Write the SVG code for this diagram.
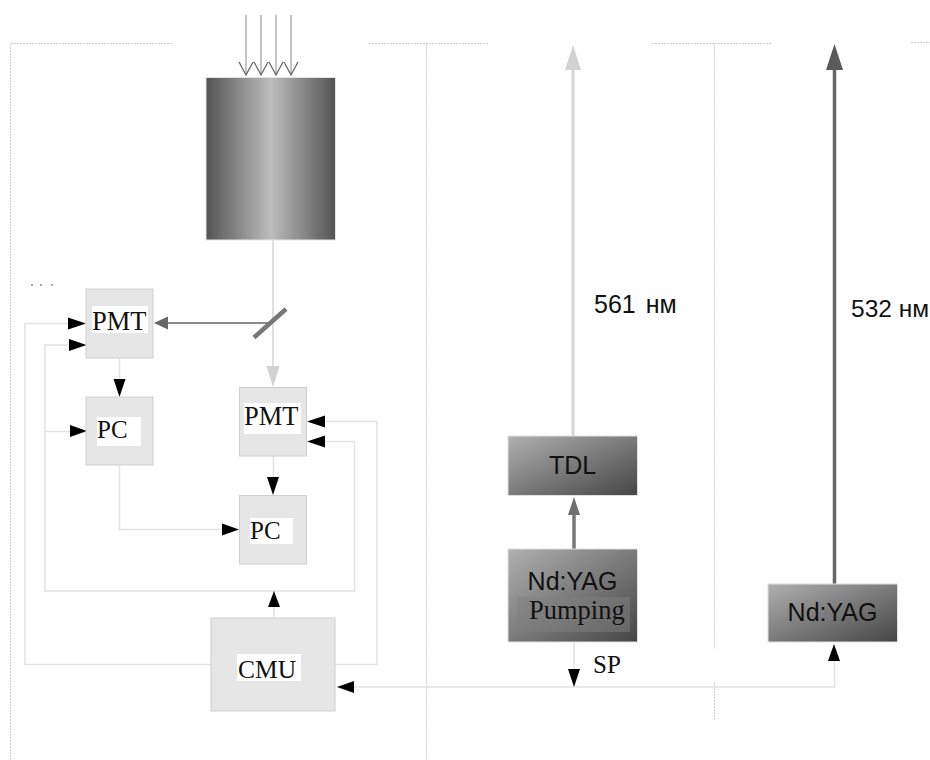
<svg xmlns="http://www.w3.org/2000/svg" width="930" height="760" viewBox="0 0 930 760">
<defs>
<linearGradient id="cyl" x1="0" y1="0" x2="1" y2="0">
<stop offset="0" stop-color="#535353"/><stop offset="0.5" stop-color="#bdbdbd"/><stop offset="1" stop-color="#535353"/>
</linearGradient>
<linearGradient id="las" x1="0" y1="0" x2="1" y2="1">
<stop offset="0" stop-color="#b0b0b0"/><stop offset="1" stop-color="#454545"/>
</linearGradient>
</defs>
<style>
.dot{fill:none;stroke:#cfcfcf;stroke-width:1;stroke-dasharray:2 1}
.wire{fill:none;stroke:#e2e2e2;stroke-width:1.5}
.box{fill:#e6e6e6;stroke:#cfcfcf;stroke-width:1}
.las{fill:url(#las);stroke:#e0e0e0;stroke-width:1}
.lab{fill:#fff}
.serif{font-family:"Liberation Serif","Times New Roman",serif;font-size:25px;fill:#111}
.wide{font-size:26.500px}
.sans{font-family:"Liberation Sans",Arial,sans-serif;font-size:25px;fill:#111}
.blk{fill:#000}
</style>
<rect width="930" height="760" fill="#fff"/>
<g id="frame">
<path class="dot" d="M172 43.500H10.500V760M369 43.500H489M652 43.500H772M911 42.500H930M426.500 43.500V760M714.500 43.500V649M714.500 682V720"/>
<path d="M31 285h2M40 285h2M51 285h2" stroke="#555" stroke-width="1" fill="none"/>
</g>
<g id="connectors">
<path d="M246 15V75M261 15V75M276 15V75M291 15V75" fill="none" stroke="#c4c4c4" stroke-width="2"/>
<path d="M239 62L246 75L253 62M254 62L261 75L268 62M269 62L276 75L283 62M284 62L291 75L298 62" fill="none" stroke="#666" stroke-width="1.300"/>
<path d="M273 240V368" fill="none" stroke="#e0e0e0" stroke-width="2"/>
<path d="M273 387L266.500 366H279.500Z" fill="#d2d2d2"/>
<path d="M270 323H166" fill="none" stroke="#666" stroke-width="1.500"/>
<path d="M154 323L168 316.500V329.500Z" fill="#666"/>
<path class="wire" d="M211 664.500H25V323.500H70M335 664.500H377V421.500H322M86 345H45V591H354.500V441.500H322M46 431.500H72M119.500 358V380M273.500 456V478M119.500 465V529.500H224M274 618V605M337 687H834.500V660M574 642V672"/>
<path class="blk" d="M86 323.500L68 317.500V329.500ZM86.500 345L69 339V351ZM87 431L70 425V437ZM119.500 397L113.500 379H125.500ZM273 495L267 477H279ZM239 529.500L222 523.500V535.500ZM307 421.500L325 415.500V427.500ZM307 441.500L325 435.500V447.500ZM274 591L268 607H280ZM337 687L354 681V693ZM834 644L828 661H840ZM574 687L568 669H580Z"/>
<path d="M574 549V512" fill="none" stroke="#777" stroke-width="3.500"/>
<path d="M574 497L568 515H580Z" fill="#707070"/>
<path d="M573 436V68" fill="none" stroke="#d6d6d6" stroke-width="3"/>
<path d="M573 45L565 70H581Z" fill="#d2d2d2"/>
<path d="M834.500 584V68" fill="none" stroke="#666" stroke-width="3.500"/>
<path d="M834.500 44L826 70H843Z" fill="#5a5a5a"/>
<path d="M254 337.500L286 309" fill="none" stroke="#777" stroke-width="4.500"/>
</g>
<g id="detector"><rect x="206" y="77.500" width="129.500" height="162.500" fill="url(#cyl)" stroke="#e4e4e4"/></g>
<g id="pmt1"><rect class="box" x="86" y="289" width="67" height="69"/><rect class="lab" x="92" y="306" width="56" height="27"/><text class="serif wide" x="92" y="330">PMT</text></g>
<g id="pc1"><rect class="box" x="86" y="397" width="67" height="68"/><rect class="lab" x="97" y="417" width="44" height="29"/><text class="serif" x="97" y="438">PC</text></g>
<g id="pmt2"><rect class="box" x="239.500" y="387.500" width="67" height="68.500"/><rect class="lab" x="244" y="403" width="57" height="31"/><text class="serif wide" x="244" y="425">PMT</text></g>
<g id="pc2"><rect class="box" x="239.500" y="495.500" width="67" height="68.500"/><rect class="lab" x="250" y="518" width="43" height="26"/><text class="serif" x="250" y="539">PC</text></g>
<g id="cmu"><rect class="box" x="211" y="618" width="124" height="93"/><rect class="lab" x="237" y="654" width="64" height="27"/><text class="serif" x="238" y="678" style="font-size:25.500px">CMU</text></g>
<g id="tdl"><rect class="las" x="508" y="436" width="129.500" height="59.500"/><text class="sans" x="572.500" y="474" text-anchor="middle">TDL</text></g>
<g id="pump"><rect class="las" x="508" y="549" width="129.500" height="93"/><rect x="517" y="597" width="113" height="35" fill="#808080" fill-opacity="0.500"/><text class="sans" x="572.500" y="590" text-anchor="middle">Nd:YAG</text><text class="serif wide" x="529" y="619">Pumping</text></g>
<g id="nd-yag"><rect class="las" x="768" y="584" width="129.500" height="58"/><text class="sans" x="832.500" y="621" text-anchor="middle">Nd:YAG</text></g>
<g id="labels">
<text class="serif" x="593" y="673">SP</text>
<text class="sans" x="594" y="313">561<tspan dx="3"> нм</tspan></text>
<text class="sans" x="851" y="317" style="font-size:24.500px">532 нм</text>
</g>
</svg>
